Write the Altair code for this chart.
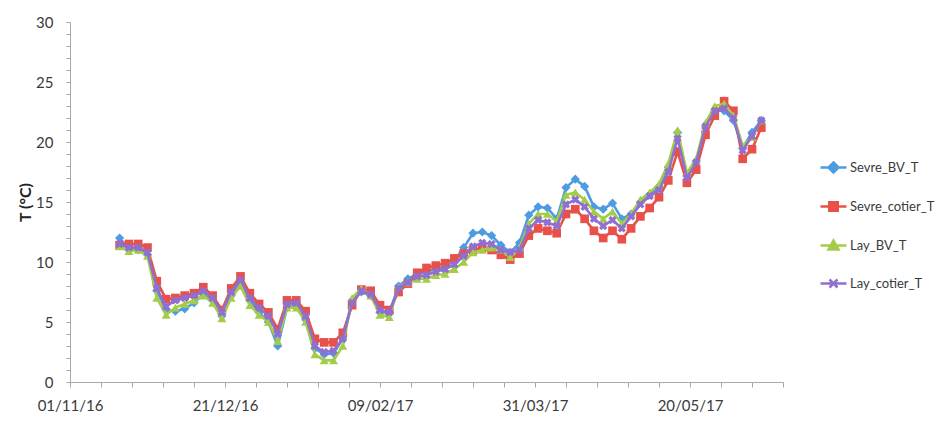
import altair as alt
import pandas as pd

# ---------------- data ----------------
series_names = ["Sevre_BV_T", "Sevre_cotier_T", "Lay_BV_T", "Lay_cotier_T"]

# days since 01/11/2016
days = [16, 19, 22, 25, 28, 31, 34, 37, 40, 43, 46, 49, 52, 55, 58, 61, 64, 67, 70, 73,
        76, 79, 82, 85, 88, 91, 94, 97, 100, 103, 106, 109, 112, 115, 118, 121, 124, 127, 130, 133,
        136, 139, 142, 145, 148, 151, 154, 157, 160, 163, 166, 169, 172, 175, 178, 181, 184, 187, 190, 193,
        196, 199, 202, 205, 208, 211, 214, 217, 220, 223]

sevre_bv = [12.0, 11.0, 11.0, 10.6, 7.6, 6.0, 5.9, 6.1, 6.6, 7.3, 6.8, 5.5, 7.2, 8.2, 6.8, 5.8, 5.0, 3.0, 6.2, 6.4,
            5.2, 2.8, 2.3, 2.4, 3.6, 6.8, 7.5, 7.2, 5.8, 5.8, 8.0, 8.6, 9.0, 9.2, 9.4, 9.6, 10.1, 11.2, 12.4, 12.5,
            12.2, 11.4, 10.8, 11.6, 13.9, 14.6, 14.5, 13.6, 16.2, 16.9, 16.3, 14.6, 14.4, 14.9, 13.6, 14.0, 15.0, 15.6, 16.3, 17.9,
            20.8, 17.2, 18.4, 21.3, 22.6, 22.6, 21.8, 19.5, 20.8, 21.8]

sevre_cotier = [11.4, 11.5, 11.5, 11.2, 8.4, 6.9, 7.0, 7.2, 7.4, 7.9, 7.2, 6.0, 7.8, 8.8, 7.4, 6.5, 5.8, 4.4, 6.8, 6.8,
                5.9, 3.6, 3.3, 3.3, 4.1, 6.4, 7.7, 7.6, 6.4, 6.0, 7.5, 8.2, 9.1, 9.5, 9.7, 9.9, 10.3, 10.7, 11.0, 11.2,
                11.0, 10.6, 10.2, 10.7, 12.2, 12.8, 12.6, 12.4, 14.0, 14.4, 13.6, 12.6, 12.0, 12.6, 11.9, 12.8, 13.8, 14.5, 15.4, 16.8,
                19.2, 16.6, 17.7, 20.6, 22.2, 23.4, 22.6, 18.6, 19.4, 21.2]

lay_bv = [11.3, 10.9, 11.0, 10.5, 7.0, 5.6, 6.2, 6.5, 6.8, 7.2, 6.6, 5.3, 7.0, 8.0, 6.4, 5.6, 5.0, 3.4, 6.2, 6.2,
          5.0, 2.3, 1.8, 1.8, 3.0, 7.0, 7.8, 7.2, 5.6, 5.4, 7.9, 8.3, 8.6, 8.6, 8.9, 9.0, 9.4, 10.0, 10.8, 11.0,
          11.2, 11.0, 10.4, 11.2, 13.2, 14.0, 14.0, 13.4, 15.6, 15.8, 15.2, 14.2, 13.6, 14.2, 13.2, 14.0, 15.2, 15.8, 16.5, 18.2,
          21.0, 17.4, 18.6, 21.6, 23.0, 23.2, 22.2, 19.7, 20.4, 21.8]

lay_cotier = [11.5, 11.2, 11.2, 10.8, 7.8, 6.3, 6.8, 7.0, 7.2, 7.6, 7.0, 5.8, 7.5, 8.5, 7.0, 6.2, 5.5, 4.0, 6.5, 6.6,
              5.5, 3.0, 2.5, 2.6, 3.6, 6.6, 7.6, 7.3, 6.0, 5.8, 7.8, 8.3, 8.8, 8.9, 9.2, 9.4, 9.8, 10.5, 11.3, 11.6,
              11.5, 11.0, 10.8, 11.0, 12.8, 13.5, 13.3, 13.0, 14.8, 15.2, 14.6, 13.6, 13.0, 13.5, 12.8, 13.8, 14.8, 15.5, 16.0, 17.5,
              20.3, 17.0, 18.3, 21.3, 22.6, 22.8, 22.0, 19.3, 20.5, 21.8]

colors = ["#4C9BE3", "#E8504A", "#A3CD48", "#8F6FD0"]
marker_shapes = ["diamond", "square", "triangle-up", "cross"]
marker_angles = [0, 0, 0, 45]
marker_sizes = [85, 75, 80, 70]
legend_paths = [
    "M-2.6,0H2.6M0,-1L1,0L0,1L-1,0Z",
    "M-2.6,0H2.6M-0.85,-0.85H0.85V0.85H-0.85Z",
    "M-2.6,0H2.6M0,-1L1,0.8H-1Z",
    "M-2.6,0H2.6M-0.8,-0.8L0.8,0.8M-0.8,0.8L0.8,-0.8",
]

start = pd.Timestamp("2016-11-01")
dates = [(start + pd.Timedelta(days=d)).strftime("%Y-%m-%d") for d in days]

rows = []
for name, vals in zip(series_names, [sevre_bv, sevre_cotier, lay_bv, lay_cotier]):
    for dt, v in zip(dates, vals):
        rows.append({"date": dt, "T": v, "series": name})
df = pd.DataFrame(rows)

# ---------------- axes ----------------
tick_dates = [start + pd.Timedelta(days=k) for k in range(0, 231, 10)]
tick_values = [alt.DateTime(year=t.year, month=t.month, date=t.day, utc=True) for t in tick_dates]
end = start + pd.Timedelta(days=230)

FONT = "Lato"
x_enc = alt.X(
    "date:T",
    scale=alt.Scale(type="utc",
                    domain=[alt.DateTime(year=2016, month=11, date=1, utc=True),
                            alt.DateTime(year=end.year, month=end.month, date=end.day, utc=True)]),
    axis=alt.Axis(
        values=tick_values,
        labelExpr="round((datum.value - utc(2016,10,1))/86400000) % 50 == 0 ? utcFormat(datum.value, '%d/%m/%y') : ''",
        title=None, grid=False, labelFont=FONT, labelFontSize=15, labelColor="#3a3a3a",
        labelPadding=11, tickSize=5, tickColor="#a8a8a8", domainColor="#a8a8a8",
        labelOverlap=False, labelFlush=False,
    ),
)
y_enc = alt.Y(
    "T:Q",
    scale=alt.Scale(domain=[0, 30], nice=False),
    axis=alt.Axis(
        values=list(range(0, 31)),
        labelExpr="datum.value % 5 == 0 ? datum.label : ''",
        title="T (°C)", titleFont=FONT, titleFontSize=16, titleFontWeight="bold", titleColor="#222222",
        titleX=-45, titleY=180, titleAngle=270, titleBaseline="middle",
        grid=False, labelFont=FONT, labelFontSize=15, labelColor="#3a3a3a",
        labelPadding=13, tickSize=4, tickColor="#a8a8a8", domainColor="#a8a8a8",
    ),
)

base = alt.Chart(df)
layers = []
for name, c, shp, ang, sz in zip(series_names, colors, marker_shapes, marker_angles, marker_sizes):
    sub = base.transform_filter(alt.datum.series == name)
    layers.append(sub.mark_line(color=c, strokeWidth=2.6).encode(x=x_enc, y=y_enc))
    layers.append(sub.mark_point(filled=True, shape=shp, angle=ang, size=sz, color=c, opacity=1)
                  .encode(x=x_enc, y=y_enc))

leg = alt.Legend(title=None, orient="none", legendX=757, legendY=139, symbolSize=100,
                 labelFont=FONT, labelFontSize=13, labelColor="#3a3a3a", rowPadding=19,
                 labelOffset=10, symbolStrokeWidth=2.5, padding=0, symbolOpacity=1)
legend_layer = base.transform_filter("false").mark_point(filled=True, opacity=1).encode(
    x=x_enc, y=y_enc,
    color=alt.Color("series:N", scale=alt.Scale(domain=series_names, range=colors), legend=leg),
    stroke=alt.Stroke("series:N", scale=alt.Scale(domain=series_names, range=colors), legend=leg),
    shape=alt.Shape("series:N", scale=alt.Scale(domain=series_names, range=legend_paths), legend=leg),
)
layers.append(legend_layer)

chart = alt.layer(*layers).properties(
    width=713, height=360,
    padding={"left": 62, "top": 14, "right": 155, "bottom": 31},
    autosize=alt.AutoSizeParams(type="none"),
    background="white",
).configure_view(stroke=None)

chart.save("out.html", embed_options={"renderer": "svg", "actions": False})
